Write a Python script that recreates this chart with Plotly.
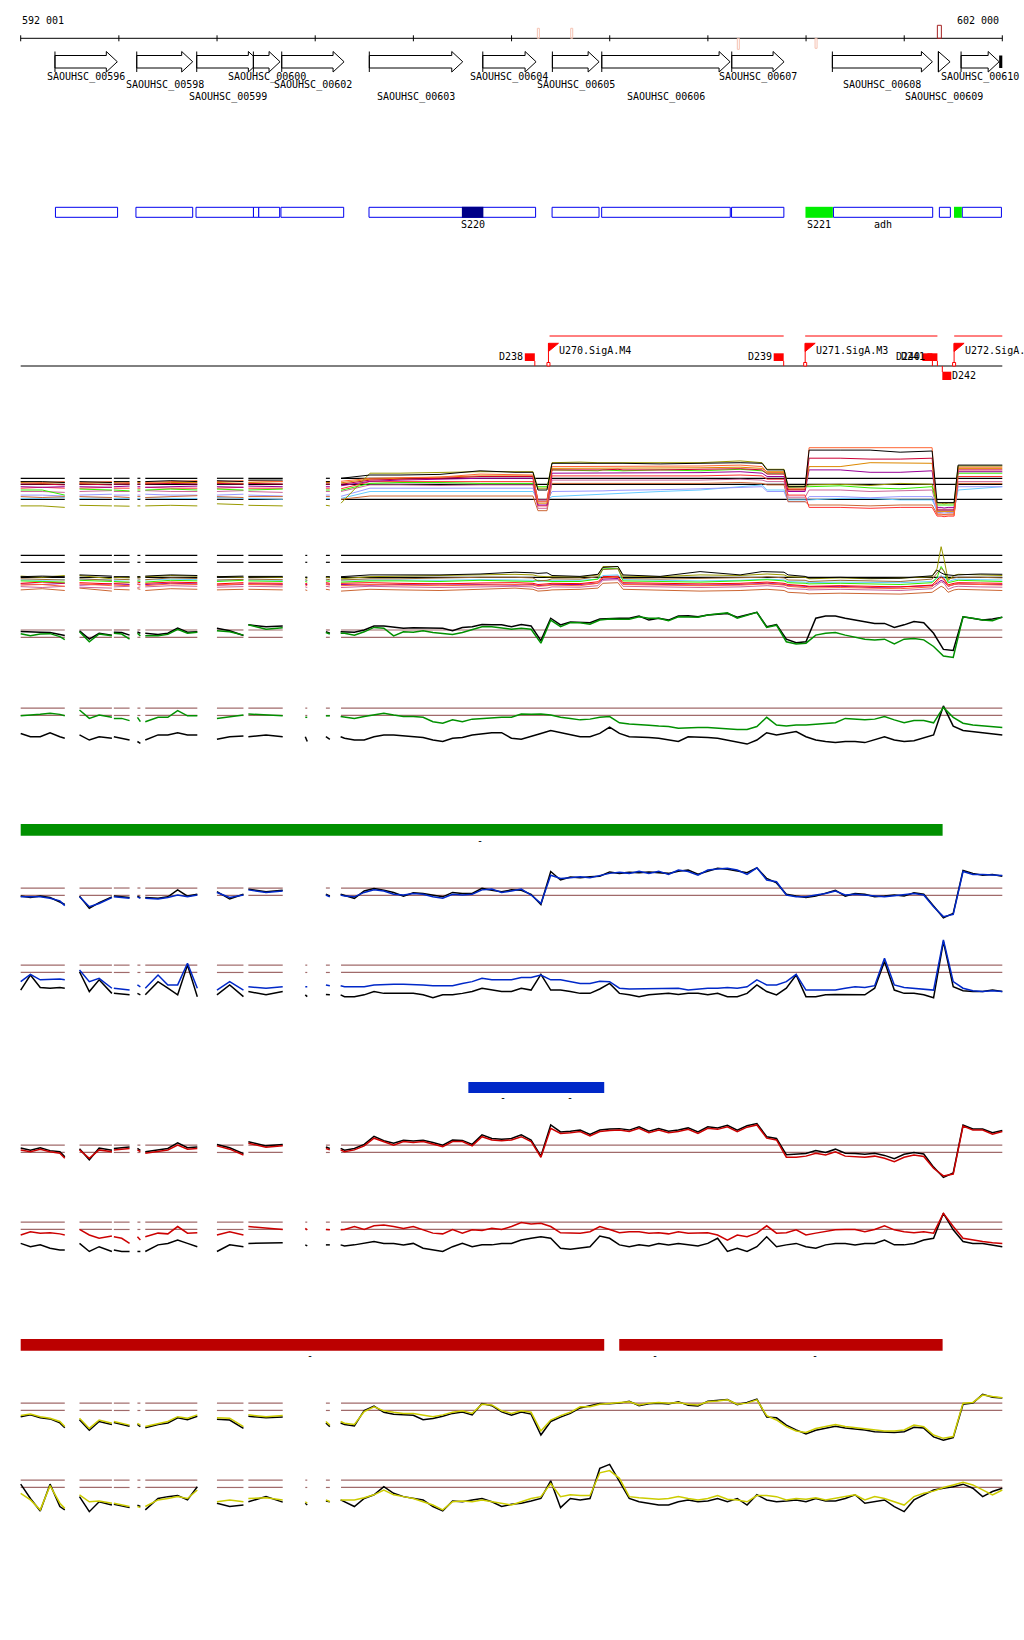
import plotly.graph_objects as go

W, H = 1024, 1640
FONT = "DejaVu Sans Mono"

# ====================== DATA ======================
RULER_START, RULER_END = 592001, 602000
RULER_TICKS = [592001, 593001, 594001, 595001, 596001, 597001, 598001, 599001, 600001, 601001, 602000]
RULER_LABELS = ["592 001", "602 000"]

GENE_NAMES = ["SAOUHSC_00596", "SAOUHSC_00598", "SAOUHSC_00599", "SAOUHSC_00600", "SAOUHSC_00602",
              "SAOUHSC_00603", "SAOUHSC_00604", "SAOUHSC_00605", "SAOUHSC_00606", "SAOUHSC_00607",
              "SAOUHSC_00608", "SAOUHSC_00609", "SAOUHSC_00610"]
GENE_START = [592350, 593183, 593794, 594371, 594660, 595552, 596708, 597417, 597920, 599244, 600269, 601349, 601580]
GENE_END = [592985, 593753, 594432, 594643, 595295, 596504, 597251, 597893, 599227, 599777, 601288, 601468, 601968]
GENE_LABEL_ROW = [0, 1, 2, 0, 1, 2, 0, 1, 2, 0, 1, 2, 0]
EDGE_FEATURE = [601968, 602000]

MARK_POS = [597274, 597614, 599311, 600103, 601359]
MARK_STRAND = [1, 1, -1, -1, 1]
MARK_SCORE = [0.77, 0.77, 0.85, 0.77, 1.0]
MARK_COLOR = ["#F5C2B2", "#F5C2B2", "#F5C2B2", "#F5C2B2", "#A52222"]

BOX_START = [592355, 593175, 593787, 594372, 594426, 594652, 595549, 597414, 597919, 599242, 600280, 601359, 601592]
BOX_END = [592988, 593753, 594372, 594426, 594639, 595291, 597246, 597892, 599229, 599775, 601291, 601471, 601991]
FILLED_START = [596495, 599995, 601508]
FILLED_END = [596714, 600274, 601588]
FILLED_COLOR = ["#000088", "#00EE00", "#00EE00"]
BOX_LABEL_TEXT = ["S220", "S221", "adh"]
BOX_LABEL_POS = [596605, 600135, 600786]

TU_START = [597388, 599992, 601510]
TU_END = [599773, 601339, 602000]
PROM_NAMES = ["U270.SigA.M4", "U271.SigA.M3", "U272.SigA.M1"]
PROM_POS = [597377, 599992, 601509]
TERM_NAMES = ["D238", "D239", "D240", "D241", "D242"]
TERM_POS = [597238, 599773, 601288, 601339, 601389]
TERM_STRAND = [1, 1, 1, 1, -1]

GREEN_BARS = [(592001, 601392)]
BLUE_BARS = [(596561, 597945)]
RED_BARS = [(592001, 597945), (598098, 601392)]
GREEN_DASH = [596680]
BLUE_DASH = [596914, 597592]
RED_DASH = [594951, 598464, 600094]

# covered genomic segments (probe coverage)
SEGMENTS = [(592001, 592450), (592600, 592930), (592950, 593110), (593190, 593220), (593270, 593800),
            (594000, 594270), (594320, 594670), (594900, 594920), (595110, 595150), (595264, 602000)]

# sample positions for two-condition panels
XS = ([592001, 592100, 592200, 592300, 592400, 592450,
       592600, 592700, 592800, 592930,
       592950, 593030, 593110,
       593190, 593220,
       593270, 593400, 593500, 593600, 593700, 593800,
       594000, 594130, 594270,
       594320, 594500, 594670,
       594900, 594920,
       595110, 595150,
       595260] + list(range(595300, 602001, 100)))
SIZES = [6, 4, 3, 2, 6, 3, 3, 2, 2, 69]

# sample positions for multi-condition panels
XA = [592001, 592220, 592450,
      592600, 592930,
      592950, 593110,
      593190, 593220,
      593270, 593530, 593800,
      594000, 594270,
      594320, 594670,
      594900, 594920,
      595110, 595150,
      595264, 595559, 595865, 596272, 596680, 597036, 597219,
      597270, 597362,
      597413, 597698, 597881, 597932, 598085, 598136, 598514, 598921, 599329, 599553,
      599604, 599777,
      599818, 599991,
      600032, 600348, 600653, 600959, 601285,
      601336, 601377, 601407, 601448, 601509,
      601550, 601774, 602000]
SIZES_A = [3, 2, 2, 2, 3, 2, 2, 2, 2, 36]

THRESH_A = [2, 0, -5]
THRESH_B = [2.3, 0, -5]
THRESH = [1, -1]

N = None
A_BLACK = [0.9,0.9,0.6, 0.9,0.6, 0.9,0.9, 0.9,0.9, 0.9,1.2,0.9, 1.2,0.9, 1.4,1.4, N,N, 0.9,0.9,
           2.0,3.1,3.1,3.3,4.5,4.0,4.0, -1.9,-1.9, 7.0,7.0,7.0,7.2,7.0,7.0,6.8,7.0,7.2,7.0,
           4.8,4.8, -0.8,-0.8, 11.4,11.4,11.4,10.7,11.1, -6.1,-6.1,-6.3,-6.1,-6.1, 6.4,6.4,6.4]
A_OLIVE = [-7.2,-7.2,-7.7, -7.0,-7.2, -7.2,-7.3, -7.2,-7.2, -7.2,-7.0,-7.2, -6.5,-6.8, -7.0,-7.2, N,N, -7.0,-7.2,
           -6.3,3.7,3.7,4.0,4.2,4.2,4.2, -1.3,-1.3, 7.2,7.4,7.2,7.2,7.2,7.4,7.2,7.2,7.8,7.2,
           5.0,5.0, -0.6,-0.6, -0.2,0.0,-0.4,0.3,0.0, -6.3,-6.3,-6.5,-6.3,-6.3, 6.1,6.1,6.1]
A_ORANGERED = [0.9,0.6,0.9, 0.6,0.9, 0.9,0.6, 0.9,0.9, 0.6,0.9,1.2, 0.9,1.2, 1.2,0.9, N,N, 0.9,0.9,
               1.0,2.0,2.2,2.4,3.4,3.1,3.1, -5.8,-5.8, 5.9,5.9,6.1,6.1,5.9,5.9,6.1,6.1,6.4,5.9,
               3.9,3.9, -1.3,-1.3, 12.2,12.2,12.0,12.0,12.2, -10.2,-10.2,-10.4,-10.2,-10.2, 5.7,5.7,5.7]
A_CRIMSON = [0.1,0.1,-0.2, 0.1,-0.2, 0.1,0.1, 0.1,0.1, 0.1,0.3,0.1, 0.3,0.1, 0.3,0.1, N,N, 0.1,0.1,
             0.0,1.4,1.7,2.0,2.6,2.6,2.6, -5.2,-5.2, 4.8,4.8,4.6,4.8,5.0,4.8,4.8,5.0,5.2,4.8,
             3.4,3.4, -1.9,-1.9, 8.7,8.7,8.4,8.4,8.7, -8.6,-8.6,-8.8,-8.6,-8.6, 4.8,4.8,4.8]
A_ORANGE = [0.6,0.3,0.6, 0.3,0.6, 0.6,0.3, 0.6,0.6, 0.3,0.6,0.6, 0.6,0.3, 0.6,0.9, N,N, 0.6,0.6,
            0.5,1.7,2.0,2.4,2.8,2.8,2.8, -6.3,-6.3, 5.3,5.3,5.5,5.5,5.3,5.3,5.5,5.5,5.7,5.3,
            4.2,4.2, -1.7,-1.7, 5.9,5.9,7.2,7.2,7.0, -9.1,-9.1,-9.3,-9.1,-9.1, 5.3,5.3,5.3]
A_PURPLE = [-0.8,-1.0,-0.8, -0.8,-1.0, -0.8,-0.6, -0.8,-0.8, -1.0,-0.8,-0.6, -0.8,-1.0, -0.6,-0.8, N,N, -0.8,-0.8,
            -0.5,1.0,1.4,1.7,2.0,2.0,2.0, -6.9,-6.9, 3.7,3.7,3.9,3.7,3.7,3.9,3.7,3.9,4.2,3.7,
            2.6,2.6, -2.4,-2.4, 4.8,4.8,4.0,4.0,4.5, -7.7,-7.7,-7.9,-7.7,-7.7, 4.2,4.2,4.2]
A_GREEN = [-1.9,-1.9,-3.6, -1.6,-1.9, -1.9,-2.2, -1.9,-1.9, -1.9,-1.6,-1.9, -1.6,-1.9, -1.9,-1.6, N,N, -1.9,-1.9,
           -2.0,0.3,0.6,0.6,0.3,0.3,0.3, -0.8,-0.8, 4.8,4.5,4.5,4.8,4.5,4.5,4.8,4.5,5.0,4.5,
           3.7,3.7, -1.0,-1.0, -0.8,-0.5,-1.2,-1.5,-0.8, -6.9,-6.9,-7.1,-6.9,-6.9, 3.7,3.7,3.7]
A_LIGHTBLUE = [-4.7,-4.7,-4.4, -4.7,-4.4, -4.7,-4.7, -4.7,-4.7, -4.4,-4.7,-4.7, -4.4,-4.7, -4.7,-5.0, N,N, -4.7,-4.7,
               -4.7,-2.4,-2.4,-2.4,-2.4,-2.4,-2.4, -5.2,-5.2, -4.1,-3.6,-3.3,-3.3,-3.0,-3.0,-2.4,-1.9,-0.8,-0.2,
               -1.9,-1.9, -5.2,-5.2, -5.2,-4.7,-4.7,-5.2,-5.2, -8.6,-8.6,-8.8,-8.6,-8.6, -1.9,-1.3,-0.8]
A_PERIWINKLE = [-3.6,-3.6,-3.9, -3.6,-3.3, -3.6,-3.6, -3.6,-3.6, -3.3,-3.6,-3.6, -3.6,-3.3, -3.6,-3.9, N,N, -3.6,-3.6,
                -4.0,-1.3,-1.3,-1.3,-1.3,-1.3,-1.3, -5.8,-5.8, -2.4,-2.4,-2.2,-2.2,-2.0,-2.0,-1.8,-1.5,-1.0,-0.8,
                -2.4,-2.4, -5.8,-5.8, -4.1,-4.1,-4.5,-4.1,-4.1, -9.4,-9.4,-9.6,-9.4,-9.4, -0.8,-0.8,-0.8]
A_PINK = [-2.4,-2.4,-2.7, -2.4,-2.1, -2.4,-2.4, -2.4,-2.4, -2.1,-2.4,-2.4, -2.4,-2.1, -2.4,-2.7, N,N, -2.4,-2.4,
          -2.4,-0.2,-0.2,-0.4,-0.2,-0.2,-0.2, -8.0,-8.0, 1.4,1.4,1.2,1.4,1.4,1.2,1.4,1.4,1.7,1.4,
          0.9,0.9, -4.3,-4.3, -1.9,-1.9,-2.4,-2.2,-1.9, -8.3,-8.3,-8.5,-8.3,-8.3, 0.9,0.9,0.9]
A_SIENNA = [-4.1,-4.4,-4.1, -4.1,-4.4, -4.1,-4.4, -4.1,-4.1, -4.4,-4.1,-3.8, -4.1,-4.4, -4.1,-4.1, N,N, -4.1,-4.1,
            -5.0,-3.9,-3.9,-3.9,-3.9,-3.9,-3.9, -8.8,-8.8, 0.3,0.3,0.5,0.3,0.3,0.5,0.3,0.3,0.6,0.3,
            -0.2,-0.2, -5.8,-5.8, -6.9,-6.9,-7.2,-6.9,-6.9, -9.9,-9.9,-10.1,-9.9,-9.9, 0.3,0.3,0.3]
A_RED = [-1.3,-1.0,-1.3, -1.3,-1.0, -1.3,-1.3, -1.3,-1.3, -1.0,-1.3,-1.3, -1.3,-1.0, -1.3,-1.3, N,N, -1.3,-1.3,
         -1.5,0.9,0.9,1.0,0.9,0.9,0.9, -7.2,-7.2, 2.8,2.8,2.6,2.8,2.8,2.6,2.8,2.8,3.1,2.8,
         1.7,1.7, -3.6,-3.6, -7.7,-7.7,-8.0,-7.7,-7.7, -10.6,-10.6,-10.8,-10.6,-10.6, 2.6,2.6,2.6]

B_BLACK = [-4.8,-4.6,-4.8, -4.2,-4.6, -4.8,-4.8, -4.8,-4.8, -4.6,-4.2,-4.4, -4.8,-4.6, -4.7,-4.7, -5.0,-5.0, -4.8,-4.8,
           -4.8,-4.2,-4.2,-4.2,-3.9,-3.3,-3.5, -3.7,-3.5, -4.4,-4.7,-4.0,-1.7,-1.4,-4.2,-4.7,-3.1,-4.2,-3.1,
           -3.1,-3.3, -4.2,-4.7, -5.2,-5.0,-5.3,-5.3,-4.5, -2.6,-3.5,-4.0,-4.2,-4.4, -4.2,-3.9,-4.0]
B_OLIVE = [-4.6,-5.0,-4.4, -4.4,-5.5, -5.0,-5.2, -4.8,-5.0, -4.8,-4.4,-4.6, -4.7,-5.0, -4.8,-5.0, -5.2,-5.4, -5.0,-5.2,
           -5.5,-4.8,-4.6,-4.4,-4.4,-4.0,-4.2, -4.6,-4.8, -4.8,-4.9,-4.2,-1.4,-1.4,-4.6,-4.8,-4.2,-4.4,-4.0,
           -3.9,-4.2, -4.8,-5.0, -5.5,-5.2,-5.5,-5.3,-4.8, -2.0,5.2,1.0,-6.0,-4.4, -4.0,-4.2,-4.4]
B_BROWN = [-5.5,-5.8,-5.9, -5.5,-6.0, -5.6,-5.8, -5.5,-5.6, -5.8,-5.2,-5.4, -5.9,-5.7, -5.6,-5.8, -5.8,-6.0, -5.6,-5.8,
           -5.9,-5.5,-5.5,-5.2,-5.0,-5.0,-5.2, -6.2,-6.0, -5.5,-5.6,-4.8,-2.4,-2.2,-5.4,-5.6,-5.4,-5.2,-5.0,
           -4.8,-5.2, -5.9,-6.0, -6.4,-6.0,-6.2,-6.4,-5.6, -3.5,-2.0,-3.0,-5.5,-5.2, -5.0,-5.0,-5.2]
B_ORANGERED = [-7.6,-7.4,-8.0, -7.2,-7.8, -7.6,-7.8, -7.4,-7.6, -7.8,-7.2,-7.4, -7.6,-7.2, -7.4,-7.6, -7.6,-7.8, -7.4,-7.6,
               -7.8,-7.4,-7.6,-7.8,-7.6,-7.4,-7.6, -8.0,-7.8, -7.6,-7.8,-7.0,-5.2,-5.0,-7.4,-7.6,-7.8,-7.6,-7.4,
               -7.2,-7.6, -8.0,-8.4, -8.6,-8.4,-8.6,-8.8,-8.2, -6.5,-5.0,-6.0,-8.0,-7.4, -7.2,-7.4,-7.6]
B_RED = [-7.0,-6.6,-6.9, -6.8,-7.2, -7.0,-6.8, -6.6,-6.8, -7.0,-6.6,-6.8, -7.2,-6.8, -6.9,-7.0, -7.0,-7.2, -6.8,-7.0,
         -7.0,-6.8,-7.0,-7.2,-6.9,-6.8,-7.0, -7.4,-7.2, -7.0,-7.1,-6.5,-4.8,-4.6,-6.8,-7.0,-7.2,-7.0,-6.8,
         -6.6,-7.0, -7.4,-7.8, -8.0,-7.8,-8.0,-8.2,-7.6, -6.0,-4.5,-5.5,-7.5,-7.0, -6.8,-6.9,-7.0]
B_GREEN = [-6.2,-6.4,-6.6, -6.0,-6.4, -6.4,-6.6, -6.2,-6.4, -6.6,-6.0,-6.2, -6.4,-6.0, -6.2,-6.4, -6.4,-6.6, -6.2,-6.4,
           -6.6,-6.2,-6.2,-6.4,-6.0,-6.2,-6.4, -6.0,-6.2, -6.4,-6.4,-5.6,-2.2,-2.0,-6.2,-6.4,-6.6,-6.2,-6.0,
           -5.8,-6.2, -6.8,-7.0, -7.2,-7.0,-7.2,-7.4,-6.8, -5.0,-1.4,-3.0,-6.8,-6.2, -6.0,-6.2,-6.4]
B_LIGHTBLUE = [-5.9,-6.0,-5.8, -5.6,-5.9, -6.0,-5.8, -5.9,-6.0, -5.9,-5.6,-5.8, -6.0,-5.8, -5.9,-6.0, -6.0,-6.0, -5.8,-6.0,
               -5.9,-5.8,-5.9,-6.0,-5.8,-5.9,-6.0, -6.4,-6.2, -6.0,-6.0,-5.6,-4.4,-4.2,-5.8,-6.0,-6.2,-6.0,-5.8,
               -5.6,-5.9, -6.4,-6.6, -6.8,-6.6,-6.8,-6.8,-6.4, -5.5,-4.5,-5.0,-6.4,-5.8, -5.6,-5.8,-5.9]
B_PURPLE = [-7.2,-7.4,-7.0, -7.6,-7.2, -7.2,-7.4, -7.2,-7.4, -7.4,-7.0,-7.2, -7.6,-7.4, -7.2,-7.4, -7.4,-7.4, -7.2,-7.4,
            -7.4,-7.6,-7.4,-7.2,-7.4,-7.6,-7.4, -7.8,-7.6, -7.4,-7.4,-7.0,-5.6,-5.4,-7.2,-7.4,-7.6,-7.4,-7.2,
            -7.0,-7.4, -7.8,-8.0, -8.2,-8.0,-8.4,-8.2,-7.8, -7.0,-6.0,-6.5,-8.0,-7.4, -7.2,-7.4,-7.4]
B_SIENNA = [-9.2,-8.8,-9.4, -8.6,-9.6, -9.0,-9.2, -8.8,-9.0, -9.4,-8.8,-9.0, -9.2,-9.0, -9.0,-9.2, -9.2,-9.4, -9.0,-9.2,
            -9.6,-9.0,-9.2,-9.4,-9.0,-8.6,-9.0, -9.6,-9.4, -9.2,-9.0,-8.6,-7.0,-6.8,-9.0,-9.2,-9.6,-9.4,-9.2,
            -9.0,-9.4, -10.0,-10.3, -10.5,-10.3,-10.5,-10.6,-10.0, -9.0,-8.0,-8.5,-10.0,-9.2, -9.0,-9.2,-9.4]
B_PINK = [-8.1,-8.4,-8.0, -8.3,-8.6, -8.2,-8.0, -8.4,-8.2, -8.2,-7.8,-8.0, -8.3,-8.1, -8.0,-8.2, -8.2,-8.4, -8.0,-8.2,
          -8.4,-8.0,-8.2,-8.4,-8.2,-8.0,-8.2, -8.8,-8.6, -8.2,-8.3,-7.8,-6.0,-5.8,-8.0,-8.2,-8.4,-8.2,-8.0,
          -7.8,-8.2, -8.8,-9.0, -9.2,-9.0,-9.2,-9.4,-8.8, -7.5,-6.5,-7.0,-9.0,-8.2, -8.0,-8.2,-8.3]

C_BLACK = [0.6, 0.4, 0.4, 0.3, -0.2, -0.5,
           0.8, -1.5, 0.1, -0.4,
           0.4, 0.3, -0.4,
           0.5, 0.1,
           0.1, -0.2, 0.1, 1.5, 0.4, 0.5,
           1.5, 0.8, -0.5,
           2.4, 1.9, 2.1,
           N, N,
           0.5, 0.1,
           0.5,
           0.5, 0.4, 1.0, 2.1, 2.1, 1.9, 1.5, 1.6, 1.6, 1.5, 1.5, 0.8, 1.7, 1.9, 2.5, 2.4,
           2.4, 1.9, 2.5, 2.1, -1.9, 4.2, 2.4, 3.2, 3.2, 3.0, 4.0, 4.2, 4.2, 4.2, 4.8, 3.7,
           4.2, 3.7, 4.8, 4.9, 4.6, 5.1, 5.4, 5.5, 4.5, 5.1, 5.8, 1.9, 2.5, -1.5, -2.5, -2.2,
           4.2, 4.8, 4.8, 4.2, 3.7, 3.3, 2.8, 2.8, 1.7, 2.4, 3.3, 3.0, 0.1, -4.3, -4.6, 4.6,
           4.2, 3.7, 4.0, 4.5]
C_GREEN = [0.0, -0.6, -0.1, 0.0, -0.8, -1.6,
           0.5, -2.2, -0.1, -0.6,
           0.1, -0.1, -1.5,
           0.1, -0.6,
           -0.6, -0.6, -0.2, 1.2, 0.1, 0.4,
           0.8, 0.5, -0.4,
           2.4, 1.2, 1.6,
           N, N,
           0.3, -0.1,
           0.1,
           0.1, -0.4, 0.5, 1.7, 1.5, -0.6, 0.5, 0.4, 0.8, 0.3, 0.1, -0.2, 0.3, 1.2, 1.9, 1.9,
           1.5, 1.2, 1.5, 1.2, -2.6, 3.7, 1.9, 3.0, 3.0, 2.6, 3.7, 4.0, 3.9, 3.9, 4.6, 4.2,
           4.2, 3.5, 4.6, 4.5, 4.5, 5.1, 5.4, 5.7, 4.2, 5.1, 5.8, 1.7, 2.3, -2.2, -2.8, -2.6,
           -0.4, 0.1, 0.3, -0.4, -1.0, -1.5, -1.7, -1.5, -2.8, -1.5, -1.3, -1.7, -3.5, -6.1, -6.5, 4.6,
           4.2, 3.7, 3.5, 4.5]

D_GREEN = [-1.1, -1.0, -0.7, -0.4, -0.7, -1.1,
           0.5, -1.8, -0.9, -1.5,
           -1.8, -1.8, -2.4,
           -1.5, -2.7,
           -2.7, -1.5, -1.5, 0.3, -1.1, -1.1,
           -1.8, -1.3, -0.9,
           -0.6, -0.9, -1.1,
           -1.5, -1.5,
           -1.1, -1.1,
           -1.3,
           -1.5, -1.8, -1.3, -0.9, -0.4, -0.9, -1.3, -1.3, -1.5, -2.7, -3.1, -2.2, -2.7, -2.0, -1.8, -1.8,
           -1.5, -1.5, -0.6, -0.7, -0.6, -0.9, -1.5, -1.8, -2.2, -2.0, -1.5, -1.3, -3.0, -3.3, -3.6, -3.7,
           -3.9, -4.0, -4.5, -4.3, -4.3, -4.3, -4.5, -4.5, -4.8, -4.8, -4.0, -1.5, -3.6, -3.9, -3.6, -3.6,
           -3.4, -3.4, -3.0, -1.8, -2.0, -2.2, -2.0, -1.3, -2.2, -3.0, -2.4, -2.4, -3.0, 1.2, -1.5, -3.1,
           -3.6, -3.9, -4.0, -4.3]
D_BLACK = [-5.9, -6.8, -6.8, -5.7, -6.8, -7.2,
           -6.3, -7.7, -6.8, -7.2,
           -6.8, -7.2, -7.7,
           -8.1, -8.6,
           -7.7, -6.3, -6.3, -5.7, -6.3, -6.3,
           -7.5, -6.8, -6.6,
           -6.8, -6.3, -6.8,
           -6.8, -8.1,
           -6.8, -7.5,
           -6.8,
           -7.2, -7.7, -7.7, -6.8, -6.3, -6.3, -6.6, -6.8, -7.0, -7.7, -8.1, -7.2, -7.0, -6.3, -5.9, -5.7,
           -5.7, -7.2, -7.5, -6.8, -5.9, -5.1, -5.7, -6.3, -6.8, -6.8, -5.9, -4.2, -5.9, -6.8, -6.8, -7.0,
           -7.2, -7.7, -8.1, -6.8, -6.8, -7.0, -7.2, -7.7, -8.1, -8.8, -7.7, -5.7, -6.3, -5.9, -5.4, -6.8,
           -7.7, -8.1, -8.4, -8.1, -8.1, -8.4, -7.7, -6.8, -7.7, -8.1, -7.9, -7.2, -6.3, 1.6, -3.9, -5.1,
           -5.4, -5.9, -6.1, -6.3]

E_BLUE = [-1.4, -1.5, -1.4, -1.8, -2.5, -3.8,
          -1.4, -4.1, -3.2, -1.6,
          -1.4, -1.6, -1.8,
          -1.4, -1.8,
          -1.8, -2.0, -1.6, -0.9, -1.4, -0.9,
          -0.2, -1.6, -0.9,
          0.5, -0.2, 0.2,
          N, N,
          -0.9, -1.4,
          -0.9,
          -1.2, -1.4, -0.2, 0.5, 0.2, -0.7, -0.9, -0.5, -0.7, -1.4, -1.8, -0.7, -0.9, -0.7, 0.5, 0.7,
          -0.2, 0.2, 0.7, -0.9, -3.2, 4.5, 3.6, 3.8, 4.1, 3.8, 4.5, 5.0, 5.3, 5.0, 5.6, 5.0,
          5.6, 4.7, 5.9, 5.5, 4.5, 5.9, 6.2, 6.4, 5.9, 4.7, 6.5, 3.2, 2.7, -0.9, -1.4, -1.4,
          -0.9, -0.5, 0.2, -0.9, -0.7, -0.9, -1.2, -1.4, -1.1, -0.9, -0.5, -0.9, -4.1, -6.8, -6.2, 5.5,
          4.7, 4.7, 4.5, 4.4]
E_BLACK = [-1.2, -1.6, -1.2, -1.6, -2.8, -3.5,
           -1.2, -4.5, -3.0, -1.4,
           -1.2, -1.4, -1.6,
           -1.2, -1.6,
           -1.6, -1.8, -1.4, 0.5, -1.2, -0.7,
           0.0, -2.0, -0.7,
           0.7, 0.0, 0.4,
           N, N,
           -0.7, -1.2,
           -0.7,
           -1.0, -1.8, 0.2, 0.9, 0.4, -0.2, -1.2, -0.3, -0.5, -1.0, -1.4, -0.2, -0.5, -0.5, 0.9, 0.4,
           0.0, 0.5, 0.4, -0.7, -3.5, 5.5, 3.2, 4.0, 3.8, 4.1, 4.2, 5.4, 5.0, 5.3, 5.2, 5.4,
           5.3, 5.0, 5.6, 5.9, 4.8, 5.6, 6.4, 6.1, 5.6, 5.2, 6.5, 3.6, 2.4, -0.7, -1.2, -1.6,
           -1.2, -0.3, 0.4, -1.2, -0.5, -0.7, -1.4, -1.2, -0.9, -1.2, -0.3, -0.7, -3.8, -7.1, -5.9, 5.8,
           5.0, 4.5, 4.7, 4.2]

F_BLUE = [-3.5, -1.5, -3.0, -2.8, -2.8, -3.0,
          -0.3, -3.5, -2.6, -5.3,
          -5.3, -5.5, -5.8,
          -4.4, -4.9,
          -5.3, -1.7, -4.4, -4.4, 1.5, -5.3,
          -5.8, -3.5, -5.8,
          -4.9, -5.3, -4.9,
          -4.9, -4.9,
          -4.4, -4.6,
          -4.6,
          -4.9, -4.9, -4.9, -4.4, -4.2, -4.2, -4.2, -4.2, -4.4, -4.6, -4.6, -4.6, -4.0, -3.5, -2.6, -3.0,
          -3.0, -3.0, -2.4, -2.4, -1.7, -3.0, -3.0, -3.5, -4.0, -4.0, -3.4, -3.5, -5.3, -5.5, -5.5, -5.5,
          -5.5, -5.3, -5.3, -5.8, -5.5, -5.3, -5.3, -5.1, -5.3, -4.9, -3.0, -4.4, -4.4, -3.5, -1.5, -5.8,
          -5.8, -5.8, -5.8, -5.3, -4.9, -5.1, -4.6, 2.9, -4.4, -5.1, -5.3, -5.5, -5.8, 7.9, -3.5, -5.3,
          -6.0, -6.2, -6.0, -6.2]
F_BLACK = [-5.8, -1.7, -5.1, -5.3, -5.1, -5.3,
           -0.8, -6.2, -3.0, -6.7,
           -6.7, -7.0, -7.1,
           -6.7, -7.1,
           -7.1, -3.5, -5.3, -7.1, 1.0, -7.6,
           -7.1, -4.4, -7.6,
           -6.2, -7.1, -6.2,
           -7.1, -7.6,
           -7.0, -7.1,
           -7.1,
           -7.6, -7.6, -7.1, -6.2, -6.7, -6.7, -6.7, -6.7, -7.1, -7.9, -7.1, -7.1, -6.7, -6.2, -5.3, -5.8,
           -6.2, -6.2, -5.3, -5.8, -1.5, -5.8, -5.8, -6.2, -6.7, -6.7, -5.5, -4.0, -6.7, -7.1, -7.6, -7.1,
           -7.0, -6.7, -7.0, -6.7, -6.7, -7.1, -6.7, -7.6, -7.6, -6.7, -4.4, -6.2, -7.1, -5.3, -1.7, -7.6,
           -7.6, -7.1, -7.0, -7.0, -7.1, -7.1, -5.3, 2.0, -5.8, -6.7, -6.7, -7.1, -7.9, 7.4, -4.9, -6.0,
           -6.2, -6.2, -5.8, -6.2]

G_RED = [-0.3, -0.8, -0.1, -0.8, -1.2, -2.6,
         -0.3, -2.6, -0.3, -0.8,
         -0.3, -0.1, 0.1,
         -0.3, -0.8,
         -1.2, -0.8, -0.3, 1.0, -0.1, 0.1,
         0.8, -0.1, -1.7,
         1.5, 0.4, 0.8,
         N, N,
         0.1, -0.3,
         -0.3,
         -0.8, -0.3, 0.8, 2.9, 1.9, 1.0, 2.0, 1.7, 2.0, 1.3, 0.6, 2.0, 2.0, 0.8, 3.3, 2.4,
         2.2, 2.4, 3.3, 2.0, -2.3, 5.6, 4.2, 4.4, 4.7, 3.5, 4.7, 5.0, 5.1, 4.7, 5.6, 4.4,
         5.1, 4.4, 4.7, 5.3, 4.2, 5.6, 5.3, 6.0, 4.7, 5.9, 6.5, 2.9, 2.4, -2.3, -2.3, -2.0,
         -1.2, -1.7, -0.8, -2.0, -2.1, -2.3, -2.0, -2.6, -3.5, -2.3, -1.7, -2.1, -5.3, -7.4, -6.9, 6.2,
         5.1, 5.1, 4.0, 4.7]
G_BLACK = [0.2, -0.4, 0.3, -0.5, -0.8, -2.2,
           0.0, -3.0, 0.2, -0.4,
           0.1, 0.3, 0.5,
           0.1, -0.4,
           -0.8, -0.4, 0.1, 1.6, 0.3, 0.5,
           1.2, 0.3, -1.3,
           1.9, 0.8, 1.2,
           N, N,
           0.5, 0.1,
           0.1,
           -0.4, 0.1, 1.2, 3.4, 2.2, 1.5, 2.3, 2.1, 2.3, 1.7, 1.0, 2.4, 2.3, 1.2, 3.8, 2.8,
           2.6, 2.8, 3.8, 2.4, -2.0, 6.5, 4.6, 4.8, 5.1, 3.9, 5.1, 5.4, 5.5, 5.1, 6.0, 4.8,
           5.5, 4.8, 5.1, 5.7, 4.6, 6.0, 5.7, 6.4, 5.1, 6.3, 6.9, 3.3, 2.8, -1.6, -1.5, -1.3,
           -0.5, -1.0, -0.1, -1.2, -1.3, -1.5, -1.2, -1.8, -2.7, -1.5, -1.0, -1.4, -5.0, -7.8, -6.6, 6.5,
           5.4, 5.4, 4.4, 5.0]

H_RED = [-2.5, -1.6, -2.0, -1.9, -2.2, -2.5,
         -1.0, -2.5, -3.4, -2.8,
         -3.0, -3.4, -4.8,
         -3.0, -3.9,
         -3.0, -2.0, -2.2, -0.2, -2.0, -1.9,
         -2.5, -1.6, -2.5,
         -0.2, -0.7, -1.0,
         -0.7, -1.1,
         -1.0, -1.1,
         -1.1,
         -1.0, -0.2, -1.0, 0.0, 0.2, -0.2, -0.7, -0.2, -1.1, -2.0, -2.2, -1.0, -2.0, -1.1, -1.3, -0.7,
         -1.0, -0.2, 0.9, 0.5, 0.7, -0.2, -1.9, -1.9, -2.0, -1.6, -0.2, -1.0, -1.9, -1.6, -1.6, -2.0,
         -1.9, -2.2, -1.6, -2.0, -2.0, -1.9, -2.5, -3.9, -2.5, -3.0, -2.0, 0.0, -2.0, -1.9, -1.1, -2.5,
         -2.0, -1.6, -1.1, -1.0, -1.0, -1.6, -1.0, 0.0, -1.1, -1.6, -1.9, -1.6, -2.0, 3.4, -0.2, -3.4,
         -3.9, -4.3, -4.6, -4.8]
H_BLACK = [-4.8, -5.7, -5.2, -6.1, -6.6, -6.6,
           -4.8, -7.0, -5.7, -7.0,
           -6.6, -7.0, -7.0,
           -7.0, -7.0,
           -7.0, -5.2, -4.8, -3.9, -4.8, -5.7,
           -7.0, -5.2, -5.7,
           -4.8, -4.8, -4.6,
           -5.2, -5.5,
           -5.2, -5.2,
           -5.2,
           -5.5, -5.2, -4.8, -4.3, -4.8, -4.8, -5.2, -4.8, -6.1, -6.6, -7.0, -5.7, -4.8, -5.7, -5.2, -5.2,
           -4.8, -4.8, -3.9, -3.4, -3.0, -3.4, -6.1, -6.4, -6.1, -5.7, -2.8, -3.4, -5.2, -5.7, -5.2, -5.5,
           -4.8, -5.2, -4.8, -5.2, -5.5, -4.8, -3.4, -7.0, -6.1, -7.0, -5.7, -3.0, -5.7, -5.2, -4.8, -5.7,
           -6.1, -5.2, -4.8, -4.8, -5.2, -4.8, -4.8, -3.9, -5.2, -5.2, -4.8, -3.9, -3.4, 3.4, -1.1, -4.3,
           -4.8, -4.8, -5.2, -5.7]

I_YELLOW = [-2.4, -2.0, -2.7, -3.1, -4.0, -5.4,
            -3.1, -5.9, -3.6, -4.5,
            -4.0, -4.5, -5.0,
            -4.5, -5.0,
            -5.4, -4.5, -4.0, -2.7, -3.1, -2.2,
            -3.0, -3.1, -5.4,
            -2.2, -2.7, -2.4,
            N, N,
            -4.0, -5.0,
            -4.0,
            -4.5, -4.8, -1.3, 0.0, -1.1, -1.5, -1.8, -1.8, -2.2, -2.7, -2.2, -1.5, -1.1, -1.8, 0.7, 0.5,
            -1.1, -1.8, -1.1, -1.5, -6.6, -3.6, -2.4, -1.5, 0.0, 0.0, 0.7, 1.0, 1.2, 1.4, 0.5, 1.0,
            1.2, 1.0, 1.2, 0.7, 0.5, 1.4, 1.6, 1.9, 0.7, 1.0, 1.9, -2.4, -3.6, -5.4, -6.6, -7.0,
            -5.9, -5.4, -4.8, -5.4, -5.7, -5.9, -6.3, -6.6, -6.6, -6.3, -5.0, -5.4, -7.7, -8.6, -8.1, 1.0,
            1.2, 3.2, 2.8, 2.5]
I_BLACK = [-2.7, -2.2, -3.0, -3.3, -4.4, -5.7,
           -3.5, -6.4, -4.0, -4.8,
           -4.3, -4.8, -5.3,
           -4.8, -5.4,
           -5.7, -4.8, -4.4, -3.0, -3.5, -2.6,
           -3.4, -3.6, -5.9,
           -2.6, -3.0, -2.8,
           N, N,
           -4.4, -5.4,
           -4.4,
           -4.8, -5.2, -1.0, 0.2, -1.5, -2.0, -2.2, -2.3, -3.5, -3.2, -2.6, -1.8, -1.4, -2.2, 0.9, 0.3,
           -1.4, -2.3, -1.4, -2.0, -7.7, -4.0, -2.8, -1.8, -0.3, 0.3, 0.9, 0.8, 1.0, 1.5, 0.3, 0.8,
           1.0, 0.8, 1.4, 0.4, 0.2, 1.5, 1.8, 2.0, 0.6, 1.2, 2.1, -2.8, -3.0, -5.0, -6.3, -7.4,
           -6.4, -5.8, -5.3, -5.8, -6.0, -6.3, -6.8, -7.0, -7.0, -6.8, -5.6, -5.8, -8.2, -9.1, -8.4, 0.7,
           1.0, 3.4, 2.6, 2.4]

J_YELLOW = [-2.6, -4.4, -7.1, -0.5, -5.3, -6.7,
            -3.0, -4.9, -4.7, -5.3,
            -5.3, -5.8, -6.2,
            -6.2, -6.5,
            -6.2, -4.4, -4.0, -3.5, -4.0, -1.7,
            -4.9, -4.4, -4.9,
            -4.0, -3.8, -4.4,
            -4.9, -5.3,
            -4.4, -4.9,
            -4.4,
            -4.4, -4.4, -3.8, -3.0, -1.7, -3.0, -3.5, -4.0, -4.9, -5.8, -7.1, -4.9, -4.7, -4.9, -4.4, -4.9,
            -5.3, -5.8, -4.9, -4.0, -3.5, 0.1, -3.5, -3.0, -3.2, -3.2, 3.0, 3.6, 1.5, -3.5, -3.8, -4.0,
            -4.2, -4.0, -3.5, -4.0, -4.4, -4.0, -3.2, -4.2, -4.4, -4.9, -3.2, -3.2, -3.5, -4.4, -4.0, -4.2,
            -3.8, -4.4, -4.0, -3.5, -3.0, -4.4, -3.5, -4.0, -4.9, -5.8, -3.5, -2.6, -2.0, -1.0, -0.3, 0.4,
            -0.3, -1.7, -3.0, -1.7]
J_BLACK = [-0.1, -4.0, -7.4, -0.1, -6.2, -7.1,
           -3.5, -7.6, -4.9, -5.8,
           -5.6, -6.0, -6.5,
           -5.8, -6.2,
           -7.1, -4.0, -3.5, -3.2, -4.4, -0.8,
           -5.3, -6.2, -5.8,
           -4.9, -3.5, -5.0,
           -5.3, -5.8,
           -4.7, -4.9,
           -4.4,
           -4.9, -6.2, -4.0, -3.0, -0.8, -2.6, -3.5, -4.0, -4.4, -6.2, -7.4, -4.7, -4.9, -4.4, -4.0, -4.9,
           -6.2, -5.6, -5.3, -4.7, -4.0, 0.8, -6.5, -4.0, -4.4, -4.0, 4.2, 5.3, 0.5, -4.0, -4.9, -5.3,
           -5.8, -5.8, -4.9, -4.4, -4.9, -4.7, -4.0, -4.9, -4.0, -5.8, -3.0, -4.4, -4.9, -4.7, -4.4, -4.9,
           -4.0, -4.7, -4.7, -4.0, -3.0, -5.3, -4.9, -4.4, -6.2, -7.6, -4.4, -3.0, -1.7, -1.2, -0.8, -0.1,
           -1.2, -3.5, -2.1, -1.2]

# ====================== LAYOUT HELPERS ======================
BP_PER_PX = (RULER_END - RULER_START) / (1002.3 - 20.7)
X0 = RULER_START - 20.7 * BP_PER_PX
X1 = X0 + W * BP_PER_PX


def py(p):
    return 1 - p / H


shapes, annotations = [], []


def hline(x0, x1, y, color, width=1.0):
    shapes.append(dict(type="line", xref="x", yref="paper", x0=x0, x1=x1, y0=py(y), y1=py(y),
                       line=dict(color=color, width=width)))


def vline(x, y0, y1, color, width=1.0):
    shapes.append(dict(type="line", xref="x", yref="paper", x0=x, x1=x, y0=py(y0), y1=py(y1),
                       line=dict(color=color, width=width)))


def rect(x0, x1, y0, y1, fill, line_color=None, width=1.0):
    shapes.append(dict(type="rect", xref="x", yref="paper", x0=x0, x1=x1, y0=py(y1), y1=py(y0),
                       fillcolor=fill, line=dict(color=line_color or fill, width=width if line_color else 0)))


def label(x, y, s, anchor="center", size=10, color="black"):
    annotations.append(dict(x=x, y=py(y), xref="x", yref="paper", text=s, showarrow=False,
                            xanchor=anchor, yanchor="middle", borderpad=0,
                            font=dict(size=size, color=color, family=FONT)))


# ---------- ruler ----------
hline(RULER_START, RULER_END, 38.3, "black", 1)
for t in RULER_TICKS:
    vline(t, 35.3, 41.3, "black", 1)
label(RULER_START, 20.5, RULER_LABELS[0], anchor="left")
label(RULER_END - 2 * BP_PER_PX, 20.5, RULER_LABELS[1], anchor="right")

for pos, strand, score, col in zip(MARK_POS, MARK_STRAND, MARK_SCORE, MARK_COLOR):
    h = 13 * score
    w = (4 if score >= 1 else 2) * BP_PER_PX
    if strand > 0:
        rect(pos - w / 2, pos + w / 2, 38.3 - h, 38.3, "rgba(0,0,0,0)", col, 1)
    else:
        rect(pos - w / 2, pos + w / 2, 38.3, 38.3 + h, "rgba(0,0,0,0)", col, 1)

# ---------- genes ----------
HEAD_BP = 11 * BP_PER_PX
BT, BB, HT, HB = 55.5, 68.0, 51.5, 72.0
YM = (HT + HB) / 2
ROW_Y = [76.7, 85.0, 97.3]
for name, s, e, row in zip(GENE_NAMES, GENE_START, GENE_END, GENE_LABEL_ROW):
    hs = e - min(HEAD_BP, e - s)
    if hs - s > 2 * BP_PER_PX:
        path = (f"M {s},{py(BT)} L {hs},{py(BT)} L {hs},{py(HT)} L {e},{py(YM)} "
                f"L {hs},{py(HB)} L {hs},{py(BB)} L {s},{py(BB)} Z")
    else:
        path = f"M {s},{py(HT)} L {e},{py(YM)} L {s},{py(HB)} Z"
    shapes.append(dict(type="path", xref="x", yref="paper", path=path, fillcolor="white",
                       line=dict(color="black", width=1)))
    vline(s, HT, HB, "black", 1)
    label((s + e) / 2, ROW_Y[row], name)
rect(EDGE_FEATURE[0], EDGE_FEATURE[1], BT, BB, "black")

# ---------- boxes ----------
for s, e in zip(BOX_START, BOX_END):
    rect(s, e, 207.3, 217.3, "white", "#0000EE", 1)
for s, e, c in zip(FILLED_START, FILLED_END, FILLED_COLOR):
    rect(s, e, 206.8, 217.8, c)
for t, p in zip(BOX_LABEL_TEXT, BOX_LABEL_POS):
    label(p, 224.5, t)

# ---------- promoters / terminators ----------
BASE_Y = 366
hline(RULER_START, RULER_END, BASE_Y, "black", 1)
for s, e in zip(TU_START, TU_END):
    hline(s, e, 336, "#FF0000", 1)
for name, pos in zip(PROM_NAMES, PROM_POS):
    vline(pos, 343.3, BASE_Y, "#FF0000", 1)
    shapes.append(dict(type="path", xref="x", yref="paper",
                       path=f"M {pos},{py(343.3)} L {pos + 10 * BP_PER_PX},{py(343.3)} L {pos},{py(351.5)} Z",
                       fillcolor="#FF0000", line=dict(color="#FF0000", width=1)))
    rect(pos - 1.5 * BP_PER_PX, pos + 1.5 * BP_PER_PX, 362.5, 366, "white", "#FF0000", 1)
    label(pos + 10 * BP_PER_PX, 350.5, name, anchor="left")
SQ = 10 * BP_PER_PX
for name, pos, strand in zip(TERM_NAMES, TERM_POS, TERM_STRAND):
    if strand > 0:
        rect(pos - SQ, pos, 353.3, 361, "#FF0000")
        vline(pos, 361, BASE_Y, "#FF0000", 1)
        label(pos - SQ - BP_PER_PX, 357, name, anchor="right")
    else:
        rect(pos, pos + 9 * BP_PER_PX, 371.7, 380, "#FF0000")
        vline(pos, BASE_Y, 372, "#FF0000", 1)
        label(pos + 9 * BP_PER_PX, 376, name, anchor="left")

# ---------- colored bars ----------
for bars, dashes, col, (y0, y1) in [(GREEN_BARS, GREEN_DASH, "#009000", (824, 835.7)),
                                    (BLUE_BARS, BLUE_DASH, "#0028C8", (1082, 1093)),
                                    (RED_BARS, RED_DASH, "#BB0000", (1339, 1350.7))]:
    for s, e in bars:
        rect(s, e, y0, y1, col)
    for d in dashes:
        label(d, y1 + 4.5, "-", size=10)

# ====================== PANELS ======================
fig = go.Figure()

PANELS = [
    # center_px, px_per_unit, top_px, bottom_px, grid, sizes, thresholds, ref colour, has_s8, series, width
    (484.3, 3.0, 436, 534, XA, SIZES_A, THRESH_A, "#000000", False,
     [(A_LIGHTBLUE, "#66CCFF"), (A_PERIWINKLE, "#9999FF"), (A_SIENNA, "#CC6633"), (A_PINK, "#CC6699"),
      (A_RED, "#FF3333"), (A_GREEN, "#33EE00"), (A_PURPLE, "#990099"), (A_ORANGE, "#DD8800"),
      (A_CRIMSON, "#CC0033"), (A_ORANGERED, "#FF6633"), (A_OLIVE, "#999900"), (A_BLACK, "#000000")], 1.0),
    (562.3, 3.0, 536, 612, XA, SIZES_A, THRESH_B, "#000000", True,
     [(B_SIENNA, "#CC6633"), (B_PINK, "#CC6699"), (B_PURPLE, "#990099"), (B_ORANGERED, "#FF6633"),
      (B_RED, "#FF0000"), (B_LIGHTBLUE, "#66CCFF"), (B_GREEN, "#33EE00"), (B_BROWN, "#996633"),
      (B_OLIVE, "#999900"), (B_BLACK, "#000000")], 1.0),
    (633.65, 3.667, 596, 672, XS, SIZES, THRESH, "#A06A6A", False,
     [(C_BLACK, "#000000"), (C_GREEN, "#009000")], 1.5),
    (711.8, 3.667, 682, 762, XS, SIZES, THRESH, "#A06A6A", True,
     [(D_BLACK, "#000000"), (D_GREEN, "#009000")], 1.5),
    (891.7, 3.667, 852, 930, XS, SIZES, THRESH, "#A06A6A", False,
     [(E_BLACK, "#000000"), (E_BLUE, "#0028C8")], 1.5),
    (968.8, 3.667, 930, 1022, XS, SIZES, THRESH, "#A06A6A", True,
     [(F_BLACK, "#000000"), (F_BLUE, "#0028C8")], 1.5),
    (1148.8, 3.667, 1110, 1190, XS, SIZES, THRESH, "#A06A6A", False,
     [(G_BLACK, "#000000"), (G_RED, "#CC0000")], 1.5),
    (1225.8, 3.667, 1196, 1276, XS, SIZES, THRESH, "#A06A6A", True,
     [(H_BLACK, "#000000"), (H_RED, "#CC0000")], 1.5),
    (1406.8, 3.667, 1366, 1452, XS, SIZES, THRESH, "#A06A6A", False,
     [(I_BLACK, "#000000"), (I_YELLOW, "#CCCC00")], 1.5),
    (1483.8, 3.667, 1454, 1530, XS, SIZES, THRESH, "#A06A6A", True,
     [(J_BLACK, "#000000"), (J_YELLOW, "#CCCC00")], 1.5),
]


def segmented(xs, vals, sizes):
    X, Y, i = [], [], 0
    for n in sizes:
        X += list(xs[i:i + n]) + [None]
        Y += list(vals[i:i + n]) + [None]
        i += n
    return X, Y


layout_axes = {}
for idx, (center, ppu, top, bot, grid, sizes, thr, refcol, has_s8, series, lw) in enumerate(PANELS):
    ykey = "y" if idx == 0 else f"y{idx + 1}"
    akey = "yaxis" if idx == 0 else f"yaxis{idx + 1}"
    layout_axes[akey] = dict(domain=[py(bot), py(top)], range=[(center - bot) / ppu, (center - top) / ppu],
                             anchor="x", visible=False, fixedrange=True)
    for t in thr:
        rx, ry = [], []
        for j, (s, e) in enumerate(SEGMENTS):
            if j == 7 and not has_s8:
                continue
            rx += [s, e, None]
            ry += [t, t, None]
        fig.add_trace(go.Scatter(x=rx, y=ry, mode="lines", yaxis=ykey, hoverinfo="skip",
                                 line=dict(color=refcol, width=1.2), showlegend=False))
    for vals, col in series:
        pairs = list(zip(grid, vals))
        gx = [p[0] for p in pairs]
        gy = [p[1] for p in pairs]
        X, Y = segmented(gx, gy, sizes)
        fig.add_trace(go.Scatter(x=X, y=Y, mode="lines", yaxis=ykey, hoverinfo="skip",
                                 line=dict(color=col, width=lw), showlegend=False))

fig.update_layout(
    width=W, height=H, autosize=False,
    margin=dict(l=0, r=0, t=0, b=0),
    paper_bgcolor="white", plot_bgcolor="white",
    showlegend=False,
    font=dict(family=FONT, size=10, color="black"),
    xaxis=dict(range=[X0, X1], domain=[0, 1], visible=False, fixedrange=True),
    shapes=shapes, annotations=annotations,
    **layout_axes,
)

fig.write_html("out.html", config={"displayModeBar": False},
               post_script="document.body.style.margin='0';document.body.style.overflow='hidden';")
